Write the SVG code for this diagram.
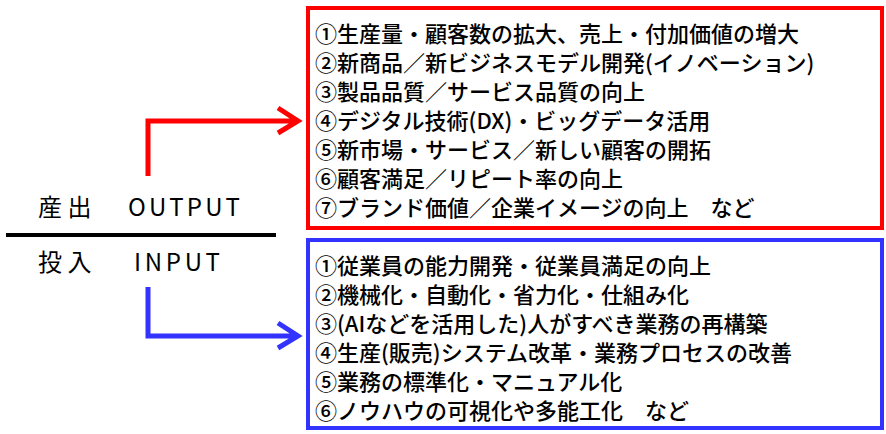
<svg xmlns="http://www.w3.org/2000/svg" width="886" height="434" viewBox="0 0 886 434">
<style>
.t{font-family:"Noto Sans CJK JP","Liberation Sans",sans-serif;font-size:22px;font-weight:500;fill:#000}
.l{font-family:"Noto Sans CJK JP","DejaVu Sans",sans-serif;font-size:24px;fill:#000}
.c{fill:none;stroke-width:5;stroke-linejoin:miter}
</style>
<rect width="886" height="434" fill="#fff"/>
<g id="output-box">
<rect x="308" y="8" width="574" height="220" fill="#fff" stroke="#f00" stroke-width="4"/>
<text class="t" x="315" y="42">①生産量・顧客数の拡大、売上・付加価値の増大</text>
<text class="t" x="315" y="71">②新商品／新ビジネスモデル開発(イノベーション)</text>
<text class="t" x="315" y="100">③製品品質／サービス品質の向上</text>
<text class="t" x="315" y="129">④デジタル技術(DX)・ビッグデータ活用</text>
<text class="t" x="315" y="158">⑤新市場・サービス／新しい顧客の開拓</text>
<text class="t" x="315" y="187">⑥顧客満足／リピート率の向上</text>
<text class="t" x="315" y="216">⑦ブランド価値／企業イメージの向上　など</text>
</g>
<g id="input-box">
<rect x="308" y="240" width="574" height="188" fill="#fff" stroke="#33f" stroke-width="4"/>
<text class="t" x="315" y="274">①従業員の能力開発・従業員満足の向上</text>
<text class="t" x="315" y="303">②機械化・自動化・省力化・仕組み化</text>
<text class="t" x="315" y="332">③(AIなどを活用した)人がすべき業務の再構築</text>
<text class="t" x="315" y="361">④生産(販売)システム改革・業務プロセスの改善</text>
<text class="t" x="315" y="390">⑤業務の標準化・マニュアル化</text>
<text class="t" x="315" y="419">⑥ノウハウの可視化や多能工化　など</text>
</g>
<g id="labels">
<text class="l" x="38" y="216">産 出</text>
<text class="l" x="128" y="216" font-family="DejaVu Sans" textLength="112">OUTPUT</text>
<line x1="6" y1="235" x2="276" y2="235" stroke="#000" stroke-width="4"/>
<text class="l" x="38" y="271">投 入</text>
<text class="l" x="134" y="271" font-family="DejaVu Sans" textLength="86">INPUT</text>
</g>
<g id="connectors">
<path class="c" stroke="#f00" d="M148 176V121H298M278 108L298 121L278 133"/>
<path class="c" stroke="#33f" d="M148 287V336H298M278 323L298 336L278 348"/>
</g>
</svg>
